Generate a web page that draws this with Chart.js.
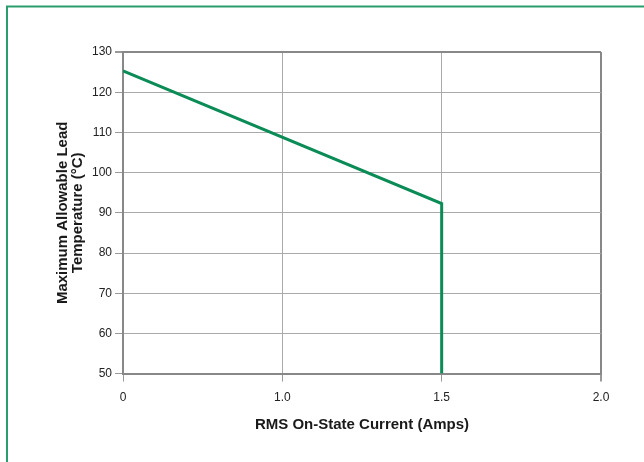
<!DOCTYPE html>
<html>
<head>
<meta charset="utf-8">
<script src="https://cdn.jsdelivr.net/npm/chart.js@4.4.1/dist/chart.umd.min.js"></script>
<style>
  html, body { margin: 0; padding: 0; background: #fff; }
  #wrap { position: relative; width: 644px; height: 462px; }
</style>
</head>
<body>
<div id="wrap"><canvas id="chart" width="644" height="462"></canvas></div>
<script>
// Valores de la curva (corriente en A, temperatura en °C)
const currentAmps = [0, 1.5, 1.5];
const leadTemp = [125.3, 92.3, 50];

// Ticks del eje X (espaciados igual en la figura)
const xTickLabels = ['0', '1.0', '1.5', '2.0'];
const xTickValues = [0, 1.0, 1.5, 2.0];

const yMin = 50, yMax = 130, yStep = 10;

const xTitle = 'RMS On-State Current (Amps)';
const yTitle = ['Maximum Allowable Lead', 'Temperature (°C)'];

// posicion en el eje = indice del tick
function toAxis(a) {
    return xTickValues.indexOf(a);
}

const framePlugin = {
    id: 'frame',
    beforeDraw(chart) {
        const c = chart.ctx;
        c.save();
        c.fillStyle = '#ffffff';
        c.fillRect(0, 0, chart.width, chart.height);
        c.strokeStyle = '#2a9d6c';
        c.lineWidth = 2;
        c.strokeRect(7, 6.5, 720, 520);
        c.restore();
    }
};

// borde del grafico mas oscuro arriba / derecha
const gridColor = (edge) => (c) => c.tick && c.tick.value === edge ? '#888888' : '#aaaaaa';
const gridWidth = (edge) => (c) => c.tick && c.tick.value === edge ? 2 : 1;

const ctx = document.getElementById('chart');
new Chart(ctx, {
    type: 'line',
    data: {
        datasets: [{
            data: currentAmps.map((a, i) => ({ x: toAxis(a), y: leadTemp[i] })),
            borderColor: '#0b8c57',
            borderWidth: 3,
            pointRadius: 0,
            tension: 0,
            fill: false
        }]
    },
    options: {
        responsive: false,
        animation: false,
        devicePixelRatio: 1,
        layout: { padding: { left: 50, right: 43, top: 52, bottom: 28 } },
        plugins: {
            legend: { display: false },
            tooltip: { enabled: false }
        },
        scales: {
            x: {
                type: 'linear',
                min: 0,
                max: 3,
                afterBuildTicks(scale) {
                    scale.ticks = xTickLabels.map((l, i) => ({ value: i }));
                },
                ticks: {
                    callback: (v) => xTickLabels[v],
                    color: '#222',
                    font: { family: 'Liberation Sans, Arial', size: 12 },
                    padding: 9,
                    maxRotation: 0
                },
                grid: { color: gridColor(3), lineWidth: gridWidth(3), tickLength: 8, tickColor: '#999999' },
                border: { color: '#888888', width: 2 },
                title: {
                    display: true,
                    text: xTitle,
                    color: '#1a1a1a',
                    font: { family: 'Liberation Sans, Arial', size: 15, weight: 'bold' },
                    padding: { top: 2, bottom: 0 }
                }
            },
            y: {
                min: yMin,
                max: yMax,
                afterFit(scale) { scale.width = 73; },
                ticks: {
                    stepSize: yStep,
                    color: '#222',
                    font: { family: 'Liberation Sans, Arial', size: 12 },
                    padding: 3
                },
                grid: { color: gridColor(yMax), lineWidth: gridWidth(yMax), tickLength: 8, tickColor: '#999999' },
                border: { color: '#888888', width: 2 },
                title: {
                    display: true,
                    text: yTitle,
                    color: '#1a1a1a',
                    font: { family: 'Liberation Sans, Arial', size: 15, weight: 'bold', lineHeight: 1.0 },
                    padding: { top: 5, bottom: 0 }
                }
            }
        }
    },
    plugins: [framePlugin]
});
</script>
</body>
</html>
